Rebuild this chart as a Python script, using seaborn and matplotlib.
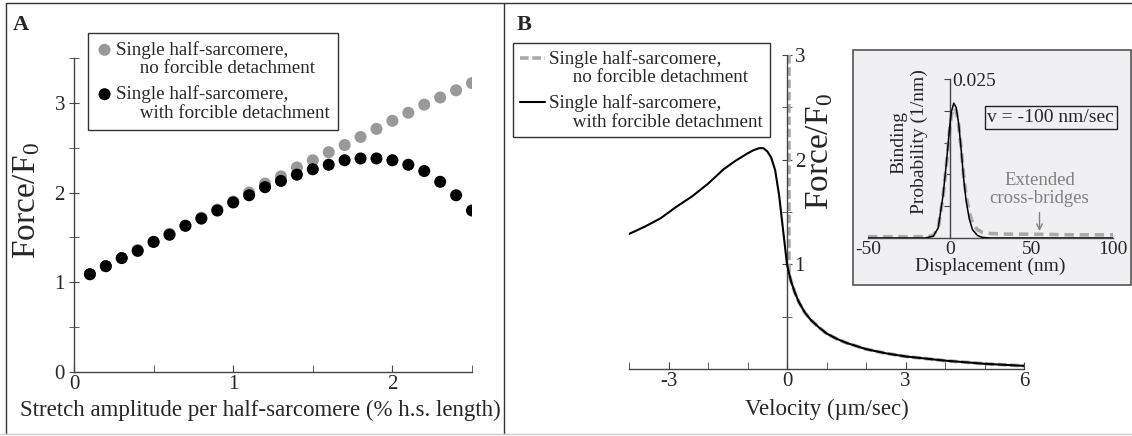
import matplotlib
matplotlib.use("Agg")
import matplotlib.pyplot as plt
import seaborn as sns
from matplotlib.lines import Line2D
from matplotlib.patches import Rectangle
from matplotlib.ticker import FixedLocator, FixedFormatter

# ---------------- data ----------------
# Panel A
stretch = [0.1, 0.2, 0.3, 0.4, 0.5, 0.6, 0.7, 0.8, 0.9, 1.0, 1.1, 1.2, 1.3,
           1.4, 1.5, 1.6, 1.7, 1.8, 1.9, 2.0, 2.1, 2.2, 2.3, 2.4, 2.5]
force_no_fd = [1.09, 1.18, 1.27, 1.36, 1.45, 1.54, 1.63, 1.72, 1.81, 1.90, 2.00,
               2.10, 2.18, 2.28, 2.36, 2.45, 2.53, 2.62, 2.71, 2.80, 2.89, 2.98,
               3.06, 3.14, 3.22]
force_with_fd = [1.09, 1.18, 1.27, 1.35, 1.45, 1.53, 1.63, 1.71, 1.80, 1.89, 1.97,
                 2.06, 2.13, 2.20, 2.26, 2.31, 2.36, 2.38, 2.38, 2.36, 2.31, 2.24,
                 2.12, 1.97, 1.80]

# Panel B main
velocity_with_fd = [-4.0, -3.6, -3.2, -2.8, -2.4, -2.0, -1.6, -1.3, -1.0, -0.85,
                    -0.7, -0.6, -0.5, -0.4, -0.3, -0.2, -0.1, 0.0, 0.1, 0.2, 0.3,
                    0.45, 0.6, 0.8, 1.0, 1.25, 1.5, 2.0, 2.5, 3.0, 3.5, 4.0, 4.5,
                    5.0, 5.5, 6.0]
force_v_with_fd = [1.29, 1.36, 1.44, 1.55, 1.65, 1.77, 1.91, 1.99, 2.06, 2.09,
                   2.11, 2.11, 2.08, 2.02, 1.90, 1.66, 1.33, 1.00, 0.84, 0.73, 0.64,
                   0.54, 0.47, 0.40, 0.34, 0.29, 0.25, 0.19, 0.15, 0.12, 0.10, 0.08,
                   0.065, 0.05, 0.04, 0.03]
velocity_no_fd = [0.05, 0.05, 0.1, 0.2, 0.3, 0.45, 0.6, 0.8, 1.0, 1.25, 1.5, 2.0,
                  2.5, 3.0, 3.5, 4.0, 4.5, 5.0, 5.5, 6.0]
force_v_no_fd = [3.0, 0.92, 0.84, 0.73, 0.64, 0.54, 0.47, 0.40, 0.34, 0.29, 0.25,
                 0.19, 0.15, 0.12, 0.10, 0.08, 0.065, 0.05, 0.04, 0.03]

# Inset
disp_with_fd = [-50, -15, -10, -7, -4, -2, 0, 1, 2.5, 4, 5.5, 7, 8.5, 10, 12, 14,
                17, 20, 25, 100]
prob_with_fd = [0, 0, 0.0003, 0.0016, 0.0068, 0.0118, 0.0175, 0.0198, 0.0212,
                0.0205, 0.0180, 0.0140, 0.0095, 0.0060, 0.0030, 0.0013, 0.0004,
                0.0001, 0, 0]
disp_no_fd = [-50, -15, -10, -7, -4, -2, 0, 1, 2.5, 4, 5.5, 7, 8.5, 10, 12, 14,
              17, 20, 25, 35, 50, 75, 100]
prob_no_fd = [0.0002, 0.0002, 0.0004, 0.0016, 0.0066, 0.0115, 0.0170, 0.0192,
              0.0205, 0.0200, 0.0178, 0.0142, 0.0100, 0.0068, 0.0040, 0.0024,
              0.0013, 0.0009, 0.0007, 0.0006, 0.0006, 0.0005, 0.0005]

label_no = "Single half-sarcomere,\n     no forcible detachment"
label_with = "Single half-sarcomere,\n     with forcible detachment"

# ---------------- style ----------------
sns.set_style("ticks")
plt.rcParams['font.family'] = ['Liberation Serif', 'DejaVu Serif']
plt.rcParams['mathtext.fontset'] = 'custom'
plt.rcParams['mathtext.rm'] = 'Liberation Serif'
plt.rcParams['mathtext.it'] = 'Liberation Serif:italic'
plt.rcParams['axes.unicode_minus'] = False

W, H = 1132, 436
fig = plt.figure(figsize=(W / 100, H / 100), dpi=100)
fig.patch.set_facecolor('white')

def fx(px):
    return px / W

def fy(py):
    return 1 - py / H

spine_col = '#444444'
gray = '#999999'


def top_align_handles(leg):
    # put each handle on the first line of its (two-line) label
    for col in leg._legend_handle_box.get_children():
        for item in col.get_children():
            item.align = 'top'


# ---------------- Panel A ----------------
axA = fig.add_axes([fx(74), fy(372), fx(472) - fx(74), fy(58) - fy(372)])
sns.scatterplot(x=stretch, y=force_no_fd, color=gray, s=75, edgecolor='none',
                ax=axA, label=label_no, legend=False, zorder=2)
sns.scatterplot(x=stretch, y=force_with_fd, color='black', s=75, edgecolor='none',
                ax=axA, label=label_with, legend=False, zorder=3)
axA.set_xlim(0, 2.5)
axA.set_ylim(0, 3.5)
for s in ['top', 'right']:
    axA.spines[s].set_visible(False)
for s in ['left', 'bottom']:
    axA.spines[s].set_color(spine_col)
    axA.spines[s].set_linewidth(1)
axA.xaxis.set_major_locator(FixedLocator([0, 1, 2]))
axA.xaxis.set_minor_locator(FixedLocator([0.5, 1.5, 2.5]))
axA.yaxis.set_major_locator(FixedLocator([0, 1, 2, 3]))
axA.yaxis.set_minor_locator(FixedLocator([0.5, 1.5, 2.5, 3.5]))
axA.tick_params(axis='x', which='both', direction='in', length=5, color=spine_col,
                labelsize=15, pad=2)
axA.tick_params(axis='y', which='both', direction='inout', length=7, color=spine_col,
                labelsize=15, pad=3)
axA.set_xlabel("Stretch amplitude per half-sarcomere (% h.s. length)", fontsize=16.5)
axA.xaxis.set_label_coords((260 - 74) / 398, -(410 - 372) / 314)
axA.xaxis.label.set_va('center')
axA.set_ylabel("Force/F$_0$", fontsize=24)
axA.yaxis.set_label_coords((27 - 74) / 398, (372 - 201) / 314)
axA.yaxis.label.set_va('center')
legA = axA.legend(loc='upper left', bbox_to_anchor=(fx(88), fy(33)),
                  bbox_transform=fig.transFigure, fontsize=13.7, frameon=True,
                  fancybox=False, edgecolor='#333333', framealpha=1,
                  borderpad=0.42, handletextpad=0.15, labelspacing=0.42,
                  handlelength=0.9, handleheight=1.15, borderaxespad=0,
                  scatterpoints=1)
legA.get_frame().set_linewidth(1)
for t in legA.get_texts():
    t.set_linespacing(1.12)
top_align_handles(legA)

# ---------------- Panel B ----------------
axB = fig.add_axes([fx(629), fy(369), fx(1024) - fx(629), fy(55) - fy(369)])
sns.lineplot(x=velocity_no_fd, y=force_v_no_fd, color='#aaaaaa', lw=2.6,
             linestyle=(0, (2.4, 1.0)), estimator=None, sort=False, ax=axB,
             label=label_no, legend=False, zorder=2)
sns.lineplot(x=velocity_with_fd, y=force_v_with_fd, color='black', lw=1.5,
             estimator=None, sort=False, ax=axB, label=label_with, legend=False,
             zorder=3)
axB.set_xlim(-4, 6)
axB.set_ylim(0, 3)
axB.spines['top'].set_visible(False)
axB.spines['left'].set_visible(False)
axB.spines['right'].set_position(('data', 0))
axB.yaxis.tick_right()
for s in ['right', 'bottom']:
    axB.spines[s].set_color(spine_col)
    axB.spines[s].set_linewidth(1)
axB.xaxis.set_major_locator(FixedLocator([-3, 0, 3, 6]))
axB.xaxis.set_minor_locator(FixedLocator([-4, -2, -1, 1, 2, 4, 5]))
axB.yaxis.set_major_locator(FixedLocator([1, 2, 3]))
axB.yaxis.set_minor_locator(FixedLocator([0.5, 1.5, 2.5]))
axB.tick_params(axis='x', which='both', direction='in', length=5, color=spine_col,
                labelsize=15, pad=2)
axB.tick_params(axis='y', which='both', direction='inout', length=7, color=spine_col,
                labelsize=15, pad=2)
axB.set_xlabel("Velocity (\u00b5m/sec)", fontsize=16.5)
axB.xaxis.set_label_coords((827 - 629) / 395, -(409 - 369) / 314)
axB.xaxis.label.set_va('center')
axB.yaxis.set_label_position('right')
axB.set_ylabel("Force/F$_0$", fontsize=24)
axB.yaxis.set_label_coords((820 - 629) / 395, (369 - 152) / 314)
axB.yaxis.label.set_va('center')
axB.yaxis.label.set_ha('center')
axB.yaxis.label.set_rotation(90)
legB = axB.legend(loc='upper left', bbox_to_anchor=(fx(513), fy(43)),
                  bbox_transform=fig.transFigure, fontsize=13.7, frameon=True,
                  fancybox=False, edgecolor='#333333', framealpha=1,
                  borderpad=0.35, handletextpad=0.2, labelspacing=0.42,
                  handlelength=1.35, handleheight=1.15, borderaxespad=0)
legB.get_frame().set_linewidth(1)
for t in legB.get_texts():
    t.set_linespacing(1.12)
top_align_handles(legB)

# ---------------- Inset ----------------
box = Rectangle((fx(853), fy(285)), fx(1131) - fx(853), fy(50) - fy(285),
                transform=fig.transFigure, facecolor='#f0f0f2', edgecolor='#555555',
                lw=1.2, zorder=5)
fig.add_artist(box)
axB.set_zorder(1)
axA.set_zorder(1)

axI = fig.add_axes([fx(868), fy(238), fx(1113) - fx(868), fy(79) - fy(238)])
axI.set_zorder(10)
axI.patch.set_visible(False)
sns.lineplot(x=disp_no_fd, y=prob_no_fd, color='#aaaaaa', lw=2.6,
             linestyle=(0, (2.6, 1.6)), estimator=None, sort=False, ax=axI,
             legend=False, zorder=2)
sns.lineplot(x=disp_with_fd, y=prob_with_fd, color='black', lw=1.1,
             estimator=None, sort=False, ax=axI, legend=False, zorder=3)
axI.set_xlim(-50, 100)
axI.set_ylim(0, 0.025)
axI.spines['top'].set_visible(False)
axI.spines['left'].set_visible(False)
axI.spines['right'].set_position(('data', 0))
axI.yaxis.tick_right()
for s in ['right', 'bottom']:
    axI.spines[s].set_color(spine_col)
    axI.spines[s].set_linewidth(1)
axI.xaxis.set_major_locator(FixedLocator([-50, 0, 50, 100]))
axI.yaxis.set_major_locator(FixedLocator([0.005, 0.010, 0.015, 0.020, 0.025]))
axI.yaxis.set_major_formatter(FixedFormatter(['', '', '', '', '0.025']))
axI.tick_params(axis='x', length=0, labelsize=14, pad=2)
axI.tick_params(axis='y', direction='in', length=4, color=spine_col,
                labelsize=14, pad=2)
axI.set_xlabel("Displacement (nm)", fontsize=14, labelpad=0)
axI.yaxis.set_label_position('left')
axI.set_ylabel("Binding\nProbability (1/nm)", fontsize=14, linespacing=1.25)
axI.yaxis.set_label_coords((909 - 868) / 245, (238 - 142) / 159)
axI.yaxis.label.set_va('center')
axI.yaxis.label.set_ha('center')
axI.text(62, 0.0189, "v = -100 nm/sec", fontsize=14, ha='center', va='center',
         bbox=dict(boxstyle='square,pad=0.15', facecolor='none',
                   edgecolor='#222222', lw=1))
axI.text(55, 0.0076, "Extended\ncross-bridges", fontsize=13.5, color='#808080',
         ha='center', va='center', linespacing=1.05)
axI.annotate("", xy=(55, 0.0011), xytext=(55, 0.0040),
             arrowprops=dict(arrowstyle='->', color='#808080', lw=1,
                             shrinkA=0, shrinkB=0))

# ---------------- figure decorations ----------------
fig.text(fx(13), fy(30), "A", fontsize=16, fontweight='bold', va='baseline')
fig.text(fx(517), fy(30), "B", fontsize=16, fontweight='bold', va='baseline')
line_kw = dict(transform=fig.transFigure, lw=1)
fig.add_artist(Line2D([fx(6), 1.0], [fy(3), fy(3)], color='#333333', **line_kw))
fig.add_artist(Line2D([fx(6), fx(6)], [fy(434), fy(3)], color='#333333', **line_kw))
fig.add_artist(Line2D([fx(504), fx(504)], [fy(434), fy(3)], color='#333333', **line_kw))
fig.add_artist(Line2D([0, 1.0], [fy(434), fy(434)], color='#cccccc', **line_kw))

fig.savefig("out.png", dpi=100)
